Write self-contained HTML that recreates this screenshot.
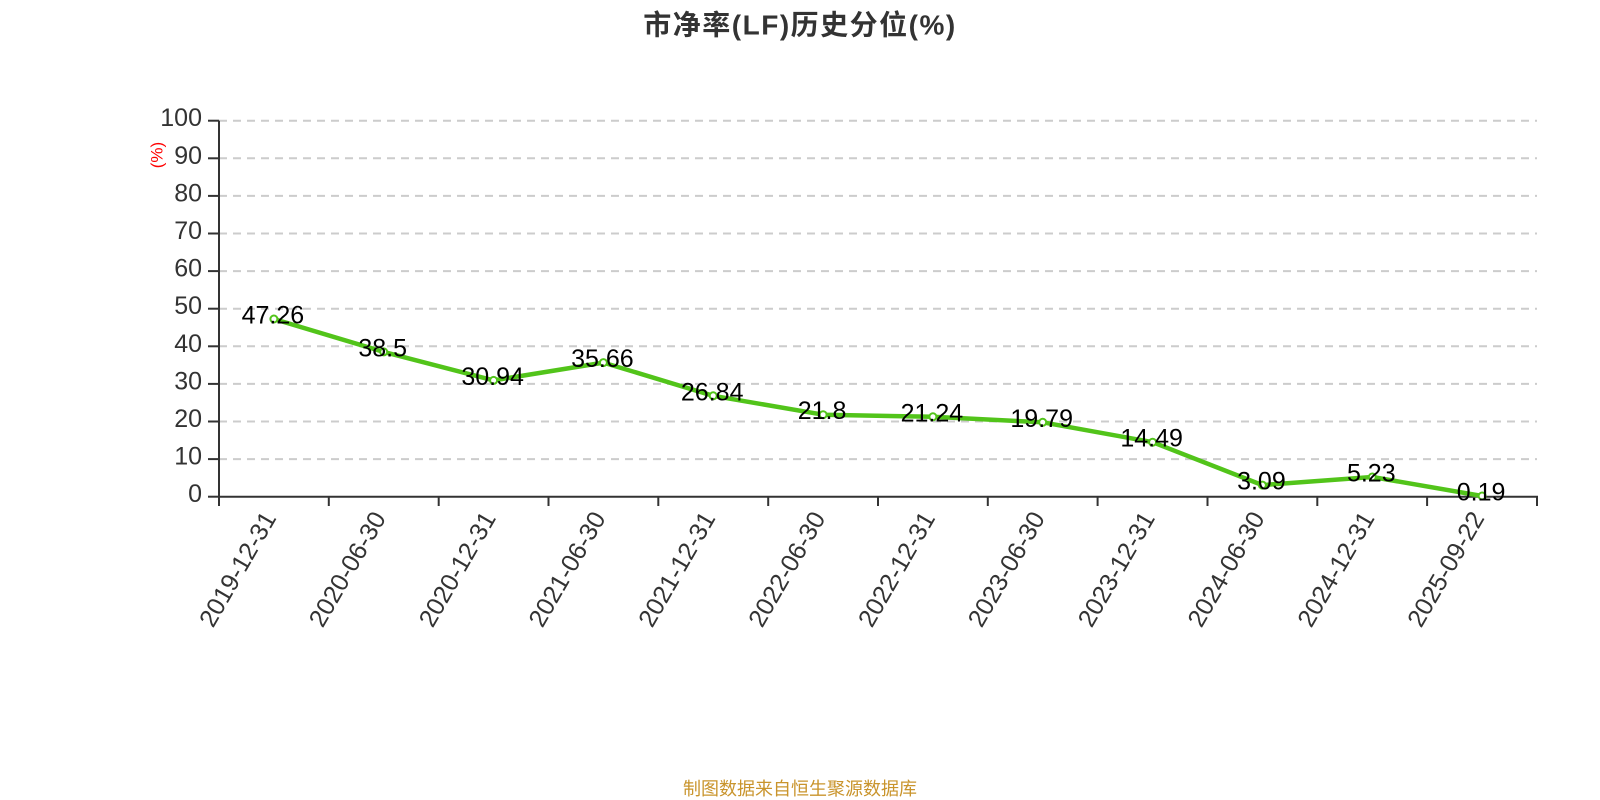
<!DOCTYPE html>
<html>
<head>
<meta charset="utf-8">
<style>
  html,body{margin:0;padding:0;background:#fff;}
  svg{display:block;}
  text{font-family:"Liberation Sans","Noto Sans CJK SC",sans-serif;}
</style>
</head>
<body>
<svg width="1600" height="800" viewBox="0 0 1600 800" xmlns="http://www.w3.org/2000/svg">
  <rect width="1600" height="800" fill="#fff"/>
  <!-- Title -->
  <text x="800" y="25" text-anchor="middle" dominant-baseline="central" font-size="28" font-weight="bold" fill="#333" letter-spacing="1.5">市净率(LF)历史分位(%)</text>

  <!-- Grid lines -->
  <g stroke="#ccc" stroke-width="2" stroke-dasharray="8,6" fill="none">
    <line x1="219" y1="459.1" x2="1537" y2="459.1"/>
    <line x1="219" y1="421.5" x2="1537" y2="421.5"/>
    <line x1="219" y1="383.9" x2="1537" y2="383.9"/>
    <line x1="219" y1="346.3" x2="1537" y2="346.3"/>
    <line x1="219" y1="308.7" x2="1537" y2="308.7"/>
    <line x1="219" y1="271.1" x2="1537" y2="271.1"/>
    <line x1="219" y1="233.5" x2="1537" y2="233.5"/>
    <line x1="219" y1="195.9" x2="1537" y2="195.9"/>
    <line x1="219" y1="158.3" x2="1537" y2="158.3"/>
    <line x1="219" y1="120.7" x2="1537" y2="120.7"/>
  </g>

  <!-- Axes -->
  <g stroke="#333" stroke-width="2" fill="none">
    <line x1="219" y1="120.7" x2="219" y2="497.7"/>
    <line x1="218" y1="496.7" x2="1538" y2="496.7"/>
    <line x1="208" y1="496.7" x2="219" y2="496.7"/>
    <line x1="208" y1="459.1" x2="219" y2="459.1"/>
    <line x1="208" y1="421.5" x2="219" y2="421.5"/>
    <line x1="208" y1="383.9" x2="219" y2="383.9"/>
    <line x1="208" y1="346.3" x2="219" y2="346.3"/>
    <line x1="208" y1="308.7" x2="219" y2="308.7"/>
    <line x1="208" y1="271.1" x2="219" y2="271.1"/>
    <line x1="208" y1="233.5" x2="219" y2="233.5"/>
    <line x1="208" y1="195.9" x2="219" y2="195.9"/>
    <line x1="208" y1="158.3" x2="219" y2="158.3"/>
    <line x1="208" y1="120.7" x2="219" y2="120.7"/>
    <line x1="219" y1="496.7" x2="219" y2="506"/>
    <line x1="328.8" y1="496.7" x2="328.8" y2="506"/>
    <line x1="438.7" y1="496.7" x2="438.7" y2="506"/>
    <line x1="548.5" y1="496.7" x2="548.5" y2="506"/>
    <line x1="658.3" y1="496.7" x2="658.3" y2="506"/>
    <line x1="768.2" y1="496.7" x2="768.2" y2="506"/>
    <line x1="878" y1="496.7" x2="878" y2="506"/>
    <line x1="987.8" y1="496.7" x2="987.8" y2="506"/>
    <line x1="1097.6" y1="496.7" x2="1097.6" y2="506"/>
    <line x1="1207.5" y1="496.7" x2="1207.5" y2="506"/>
    <line x1="1317.3" y1="496.7" x2="1317.3" y2="506"/>
    <line x1="1427.1" y1="496.7" x2="1427.1" y2="506"/>
    <line x1="1537" y1="496.7" x2="1537" y2="506"/>
  </g>

  <!-- Y labels -->
  <g font-size="25" fill="#333" text-anchor="end" dominant-baseline="central">
    <text x="202" y="494.2">0</text>
    <text x="202" y="456.6">10</text>
    <text x="202" y="419">20</text>
    <text x="202" y="381.4">30</text>
    <text x="202" y="343.8">40</text>
    <text x="202" y="306.2">50</text>
    <text x="202" y="268.6">60</text>
    <text x="202" y="231">70</text>
    <text x="202" y="193.4">80</text>
    <text x="202" y="155.8">90</text>
    <text x="202" y="118.2">100</text>
  </g>

  <!-- Y axis name -->
  <text x="157" y="155" font-size="17" fill="#f00" text-anchor="middle" dominant-baseline="central" transform="rotate(-90 157 155)">(%)</text>

  <!-- X labels -->
  <g font-size="25" fill="#333" text-anchor="end" dominant-baseline="central">
    <text transform="translate(270,514) rotate(-60)">2019-12-31</text>
    <text transform="translate(379.7,514) rotate(-60)">2020-06-30</text>
    <text transform="translate(489.6,514) rotate(-60)">2020-12-31</text>
    <text transform="translate(599.4,514) rotate(-60)">2021-06-30</text>
    <text transform="translate(709.2,514) rotate(-60)">2021-12-31</text>
    <text transform="translate(819.1,514) rotate(-60)">2022-06-30</text>
    <text transform="translate(928.9,514) rotate(-60)">2022-12-31</text>
    <text transform="translate(1038.7,514) rotate(-60)">2023-06-30</text>
    <text transform="translate(1148.6,514) rotate(-60)">2023-12-31</text>
    <text transform="translate(1258.4,514) rotate(-60)">2024-06-30</text>
    <text transform="translate(1368.3,514) rotate(-60)">2024-12-31</text>
    <text transform="translate(1478.1,514) rotate(-60)">2025-09-22</text>
  </g>

  <!-- Series line -->
  <polyline fill="none" stroke="#52c41a" stroke-width="4.5" stroke-linejoin="round" stroke-linecap="round"
    points="273.9,319.0 383.7,351.9 493.6,380.4 603.4,362.6 713.2,395.8 823.1,414.7 932.9,416.8 1042.7,422.3 1152.6,442.2 1262.4,485.1 1372.3,477.0 1482.1,496.0"/>

  <!-- Points -->
  <g fill="#fff" stroke="#52c41a" stroke-width="2">
    <circle cx="273.9" cy="319.0" r="3.5"/>
    <circle cx="383.7" cy="351.9" r="3.5"/>
    <circle cx="493.6" cy="380.4" r="3.5"/>
    <circle cx="603.4" cy="362.6" r="3.5"/>
    <circle cx="713.2" cy="395.8" r="3.5"/>
    <circle cx="823.1" cy="414.7" r="3.5"/>
    <circle cx="932.9" cy="416.8" r="3.5"/>
    <circle cx="1042.7" cy="422.3" r="3.5"/>
    <circle cx="1152.6" cy="442.2" r="3.5"/>
    <circle cx="1262.4" cy="485.1" r="3.5"/>
    <circle cx="1372.3" cy="477.0" r="3.5"/>
    <circle cx="1482.1" cy="496.0" r="3.5"/>
  </g>

  <!-- Data labels -->
  <g font-size="25" fill="#000" text-anchor="middle" dominant-baseline="central">
    <text x="272.9" y="315.5">47.26</text>
    <text x="382.7" y="348.4">38.5</text>
    <text x="492.6" y="376.9">30.94</text>
    <text x="602.4" y="359.1">35.66</text>
    <text x="712.2" y="392.3">26.84</text>
    <text x="822.1" y="411.2">21.8</text>
    <text x="931.9" y="413.3">21.24</text>
    <text x="1041.7" y="418.8">19.79</text>
    <text x="1151.6" y="438.7">14.49</text>
    <text x="1261.4" y="481.6">3.09</text>
    <text x="1371.3" y="473.5">5.23</text>
    <text x="1481.1" y="492.5">0.19</text>
  </g>

  <!-- Footer -->
  <text x="800" y="789" font-size="18" fill="#c9942c" text-anchor="middle" dominant-baseline="central">制图数据来自恒生聚源数据库</text>
</svg>
</body>
</html>
